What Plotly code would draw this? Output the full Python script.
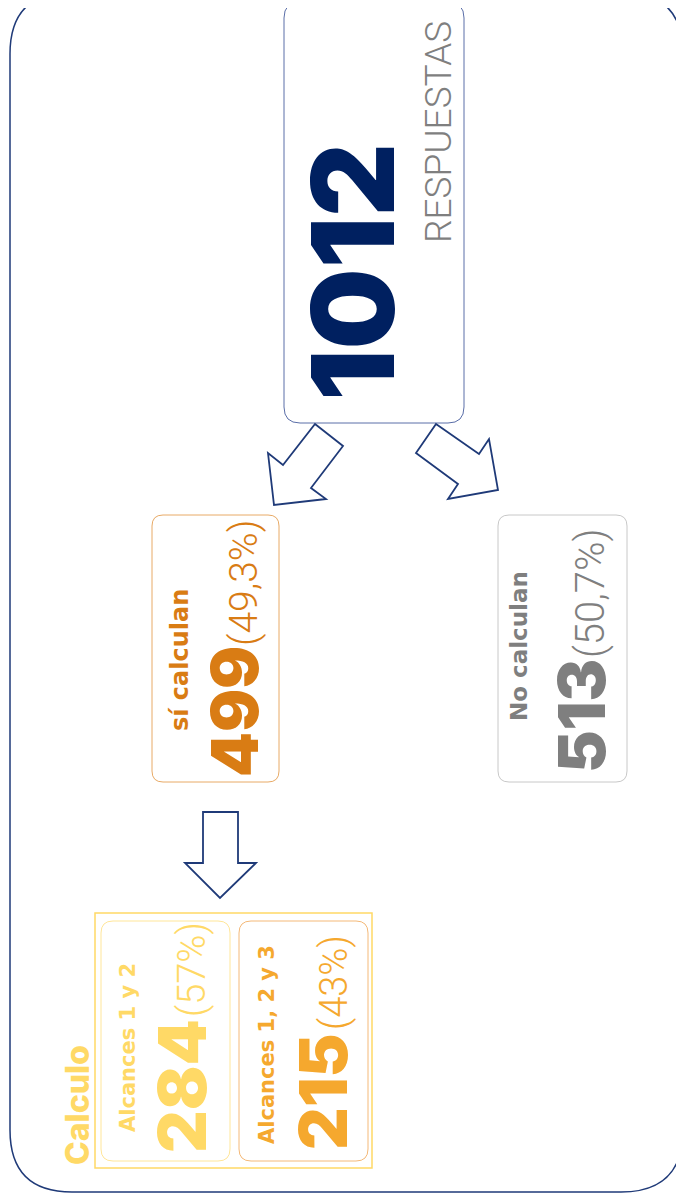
import plotly.graph_objects as go

# ---- data ----
total_label = ["1012"]
total_caption = ["RESPUESTAS"]
split_titles = ["sí calculan", "No calculan"]
split_values = ["499", "513"]
split_pcts = ["(49,3%)", "(50,7%)"]
calc_title = ["Calculo"]
calc_titles = ["Alcances 1 y 2", "Alcances 1, 2 y 3"]
calc_values = ["284", "215"]
calc_pcts = ["(57%)", "(43%)"]

NAVY = "#002060"
GRAY = "#7f7f7f"
ORANGE = "#d97c14"
YELLOW = "#ffd966"
AMBER = "#f5a82e"

HEAVY = "Inter"
TITLE = "DejaVu Sans"
LIGHT = "Roboto"

fig = go.Figure()
fig.add_trace(go.Scatter(x=[100], y=[100], mode="markers", marker=dict(opacity=0),
                         hoverinfo="skip", showlegend=False))


def rrect(x0, y0, x1, y1, r):
    return (f"M{x0+r},{y0} L{x1-r},{y0} Q{x1},{y0} {x1},{y0+r} L{x1},{y1-r} "
            f"Q{x1},{y1} {x1-r},{y1} L{x0+r},{y1} Q{x0},{y1} {x0},{y1-r} "
            f"L{x0},{y0+r} Q{x0},{y0} {x0+r},{y0} Z")


def poly(pts):
    return "M" + " L".join(f"{x},{y}" for x, y in pts) + " Z"


shapes = []
# outer frame
shapes.append(dict(type="path", path=rrect(10, -8, 683, 1192, 62),
                   line=dict(color="#1f3a78", width=1.5)))
# top box
shapes.append(dict(type="path", path=rrect(284, 2, 464, 423, 16),
                   line=dict(color="#5a6ea8", width=1)))
# split boxes
shapes.append(dict(type="path", path=rrect(152, 515, 279, 782, 11),
                   line=dict(color="#e8aa66", width=1)))
shapes.append(dict(type="path", path=rrect(498, 515, 627, 782, 11),
                   line=dict(color="#c8c8c8", width=1)))
# calculo outer
shapes.append(dict(type="rect", x0=95, y0=913, x1=372, y1=1168,
                   line=dict(color="#ffd966", width=1.5)))
shapes.append(dict(type="path", path=rrect(101, 921, 230, 1161, 12),
                   line=dict(color="#ffe699", width=1)))
shapes.append(dict(type="path", path=rrect(239, 921, 368, 1161, 12),
                   line=dict(color="#f4b978", width=1)))
# arrows
arrow_line = dict(color="#1f3a78", width=1.8)
shapes.append(dict(type="path", line=arrow_line, path=poly(
    [(315, 424), (343, 446), (311, 488), (326, 499), (274, 505), (268, 453), (283, 465)])))
shapes.append(dict(type="path", line=arrow_line, path=poly(
    [(436, 424), (479, 454), (489, 439), (498, 490), (448, 499), (458, 484), (416, 453)])))
shapes.append(dict(type="path", line=arrow_line, path=poly(
    [(203, 812), (238, 812), (238, 863), (256, 863), (220, 898), (185, 863), (203, 863)])))

ann = []


def txt(t, x, y, size, color, family, weight, **kw):
    ann.append(dict(text=t, x=x, y=y, xref="x", yref="y", showarrow=False,
                    textangle=-90, xanchor="center", yanchor="middle",
                    font=dict(size=size, color=color, family=family, weight=weight), **kw))


txt(total_label[0], 352, 272, 114, NAVY, HEAVY, 900)
txt(total_caption[0], 438, 132, 37, GRAY, LIGHT, 300)

txt(split_titles[0], 180, 660, 24, ORANGE, TITLE, 700)
txt(split_values[0], 234, 712, 64, ORANGE, HEAVY, 900)
txt(split_pcts[0], 244, 583, 39, ORANGE, LIGHT, 300)

txt(split_titles[1], 519, 646, 23, GRAY, TITLE, 700)
txt(split_values[1], 581, 716, 64, GRAY, HEAVY, 900)
txt(split_pcts[1], 590, 593, 40, GRAY, LIGHT, 300)

txt(calc_title[0], 77, 1105, 32, YELLOW, HEAVY, 800)
txt(calc_titles[0], 128, 1048, 21, YELLOW, TITLE, 700)
txt(calc_values[0], 182, 1086, 66, YELLOW, HEAVY, 900)
txt(calc_pcts[0], 192, 970, 38, YELLOW, LIGHT, 300)

txt(calc_titles[1], 267, 1045, 21, AMBER, TITLE, 700)
txt(calc_values[1], 323, 1092, 66, AMBER, HEAVY, 900)
txt(calc_pcts[1], 334, 983, 38, AMBER, LIGHT, 300)

# page has an 8px body margin: shift axes so data coords == page pixels
fig.update_layout(
    width=676, height=1196, margin=dict(l=0, r=0, t=0, b=0),
    paper_bgcolor="white", plot_bgcolor="white",
    xaxis=dict(range=[8, 684], visible=False, fixedrange=True),
    yaxis=dict(range=[1204, 8], visible=False, fixedrange=True),
    shapes=shapes, annotations=ann, showlegend=False,
)
fig.write_html("out.html", config={"displayModeBar": False})
